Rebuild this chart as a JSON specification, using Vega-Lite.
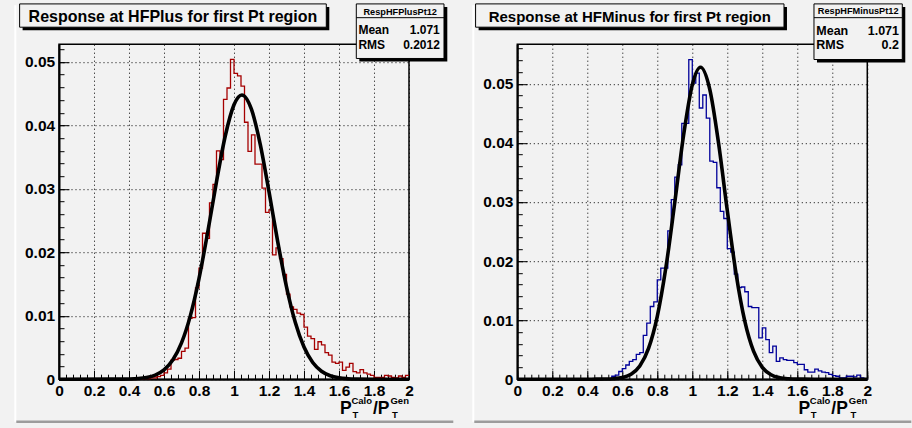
{
  "$schema": "https://vega.github.io/schema/vega-lite/v6.json",
  "background": "#f2f2f2",
  "padding": {"left": 13, "top": 2.2, "right": 0.7, "bottom": 6.7},
  "bounds": "flush",
  "spacing": 108.3,
  "config": {
    "font": "Liberation Sans",
    "view": {"stroke": "#000000", "strokeWidth": 1.5},
    "axis": {"labelFont": "Liberation Sans", "titleFont": "Liberation Sans", "titleColor": "#000000", "labelColor": "#000000", "tickColor": "#000000", "domainColor": "#000000"}
  },
  "datasets": {
    "hplus": [
      {"x": 0.40, "y": 0}, {"x": 0.42, "y": 0}, {"x": 0.44, "y": 0}, {"x": 0.46, "y": 0},
      {"x": 0.48, "y": 0.0001}, {"x": 0.50, "y": 0.0001}, {"x": 0.52, "y": 0.0002}, {"x": 0.54, "y": 0.0002},
      {"x": 0.56, "y": 0.0004}, {"x": 0.58, "y": 0.0006}, {"x": 0.60, "y": 0.0010}, {"x": 0.62, "y": 0.0016},
      {"x": 0.64, "y": 0.0030}, {"x": 0.66, "y": 0.0031}, {"x": 0.68, "y": 0.0033}, {"x": 0.70, "y": 0.0044},
      {"x": 0.72, "y": 0.0049}, {"x": 0.74, "y": 0.0096}, {"x": 0.76, "y": 0.0097}, {"x": 0.78, "y": 0.0144},
      {"x": 0.80, "y": 0.0175}, {"x": 0.82, "y": 0.0230}, {"x": 0.84, "y": 0.0222}, {"x": 0.86, "y": 0.0278},
      {"x": 0.88, "y": 0.0307}, {"x": 0.90, "y": 0.0360}, {"x": 0.92, "y": 0.0346}, {"x": 0.94, "y": 0.0441},
      {"x": 0.96, "y": 0.0459}, {"x": 0.98, "y": 0.0504}, {"x": 1.00, "y": 0.0482}, {"x": 1.02, "y": 0.0478},
      {"x": 1.04, "y": 0.0462}, {"x": 1.06, "y": 0.0405}, {"x": 1.08, "y": 0.0359}, {"x": 1.10, "y": 0.0385},
      {"x": 1.12, "y": 0.0339}, {"x": 1.14, "y": 0.0339}, {"x": 1.16, "y": 0.0301}, {"x": 1.18, "y": 0.0263},
      {"x": 1.20, "y": 0.0267}, {"x": 1.22, "y": 0.0196}, {"x": 1.24, "y": 0.0207}, {"x": 1.26, "y": 0.0190},
      {"x": 1.28, "y": 0.0165}, {"x": 1.30, "y": 0.0134}, {"x": 1.32, "y": 0.0114}, {"x": 1.34, "y": 0.0110},
      {"x": 1.36, "y": 0.0104}, {"x": 1.38, "y": 0.0102}, {"x": 1.40, "y": 0.0082}, {"x": 1.42, "y": 0.0068},
      {"x": 1.44, "y": 0.0064}, {"x": 1.46, "y": 0.0047}, {"x": 1.48, "y": 0.0059}, {"x": 1.50, "y": 0.0054},
      {"x": 1.52, "y": 0.0042}, {"x": 1.54, "y": 0.0038}, {"x": 1.56, "y": 0.0027}, {"x": 1.58, "y": 0.0025},
      {"x": 1.60, "y": 0.0027}, {"x": 1.62, "y": 0.0014}, {"x": 1.64, "y": 0.0019}, {"x": 1.66, "y": 0.0025},
      {"x": 1.68, "y": 0.0012}, {"x": 1.70, "y": 0.0010}, {"x": 1.72, "y": 0.0015}, {"x": 1.74, "y": 0.0010},
      {"x": 1.76, "y": 0.0008}, {"x": 1.78, "y": 0.0006}, {"x": 1.80, "y": 0.0003}, {"x": 1.82, "y": 0.0003},
      {"x": 1.84, "y": 0.0003}, {"x": 1.86, "y": 0.0006}, {"x": 1.88, "y": 0.0005}, {"x": 1.90, "y": 0.0003},
      {"x": 1.92, "y": 0.0002}, {"x": 1.94, "y": 0.0005}, {"x": 1.96, "y": 0.0003}, {"x": 1.98, "y": 0.0006},
      {"x": 2.00, "y": 0.0006}
    ],
    "hminus": [
      {"x": 0.40, "y": 0}, {"x": 0.42, "y": 0}, {"x": 0.44, "y": 0}, {"x": 0.46, "y": 0},
      {"x": 0.48, "y": 0}, {"x": 0.50, "y": 0}, {"x": 0.52, "y": 0.0001}, {"x": 0.54, "y": 0.0005},
      {"x": 0.56, "y": 0.0007}, {"x": 0.58, "y": 0.0013}, {"x": 0.60, "y": 0.0018}, {"x": 0.62, "y": 0.0024},
      {"x": 0.64, "y": 0.0030}, {"x": 0.66, "y": 0.0033}, {"x": 0.68, "y": 0.0042}, {"x": 0.70, "y": 0.0045},
      {"x": 0.72, "y": 0.0074}, {"x": 0.74, "y": 0.0095}, {"x": 0.76, "y": 0.0123}, {"x": 0.78, "y": 0.0131},
      {"x": 0.80, "y": 0.0168}, {"x": 0.82, "y": 0.0188}, {"x": 0.84, "y": 0.0188}, {"x": 0.86, "y": 0.0251},
      {"x": 0.88, "y": 0.0304}, {"x": 0.90, "y": 0.0342}, {"x": 0.92, "y": 0.0363}, {"x": 0.94, "y": 0.0433},
      {"x": 0.96, "y": 0.0433}, {"x": 0.98, "y": 0.0541}, {"x": 1.00, "y": 0.0501}, {"x": 1.02, "y": 0.0518},
      {"x": 1.04, "y": 0.0459}, {"x": 1.06, "y": 0.0481}, {"x": 1.08, "y": 0.0442}, {"x": 1.10, "y": 0.0369},
      {"x": 1.12, "y": 0.0367}, {"x": 1.14, "y": 0.0324}, {"x": 1.16, "y": 0.0284}, {"x": 1.18, "y": 0.0272},
      {"x": 1.20, "y": 0.0221}, {"x": 1.22, "y": 0.0215}, {"x": 1.24, "y": 0.0178}, {"x": 1.26, "y": 0.0155},
      {"x": 1.28, "y": 0.0156}, {"x": 1.30, "y": 0.0148}, {"x": 1.32, "y": 0.0123}, {"x": 1.34, "y": 0.0121},
      {"x": 1.36, "y": 0.0121}, {"x": 1.38, "y": 0.0070}, {"x": 1.40, "y": 0.0087}, {"x": 1.42, "y": 0.0067},
      {"x": 1.44, "y": 0.0045}, {"x": 1.46, "y": 0.0056}, {"x": 1.48, "y": 0.0030}, {"x": 1.50, "y": 0.0036},
      {"x": 1.52, "y": 0.0033}, {"x": 1.54, "y": 0.0032}, {"x": 1.56, "y": 0.0032}, {"x": 1.58, "y": 0.0028},
      {"x": 1.60, "y": 0.0025}, {"x": 1.62, "y": 0.0025}, {"x": 1.64, "y": 0.0016}, {"x": 1.66, "y": 0.0012},
      {"x": 1.68, "y": 0.0012}, {"x": 1.70, "y": 0.0017}, {"x": 1.72, "y": 0.0014}, {"x": 1.74, "y": 0.0012},
      {"x": 1.76, "y": 0.0011}, {"x": 1.78, "y": 0.0008}, {"x": 1.80, "y": 0.0006}, {"x": 1.82, "y": 0.0005},
      {"x": 1.84, "y": 0.0002}, {"x": 1.86, "y": 0.0002}, {"x": 1.88, "y": 0.0005}, {"x": 1.90, "y": 0.0005},
      {"x": 1.92, "y": 0.0004}, {"x": 1.94, "y": 0.0007}, {"x": 1.96, "y": 0.0002}, {"x": 1.98, "y": 0},
      {"x": 2.00, "y": 0}
    ],
    "fplus": [
      {"x": 0.0, "y": 0}, {"x": 0.30, "y": 0.000003}, {"x": 0.35, "y": 0.000011}, {"x": 0.40, "y": 0.000033},
      {"x": 0.45, "y": 0.000098}, {"x": 0.50, "y": 0.000263}, {"x": 0.55, "y": 0.000646}, {"x": 0.60, "y": 0.001457},
      {"x": 0.65, "y": 0.00301}, {"x": 0.70, "y": 0.00572}, {"x": 0.75, "y": 0.00994}, {"x": 0.80, "y": 0.01586},
      {"x": 0.85, "y": 0.0232}, {"x": 0.90, "y": 0.03113}, {"x": 0.95, "y": 0.03833}, {"x": 1.00, "y": 0.04326},
      {"x": 1.045, "y": 0.0448}, {"x": 1.10, "y": 0.04252}, {"x": 1.15, "y": 0.03702}, {"x": 1.20, "y": 0.02956},
      {"x": 1.25, "y": 0.02165}, {"x": 1.30, "y": 0.01455}, {"x": 1.35, "y": 0.00896}, {"x": 1.40, "y": 0.00506},
      {"x": 1.45, "y": 0.00262}, {"x": 1.50, "y": 0.00125}, {"x": 1.55, "y": 0.000543}, {"x": 1.60, "y": 0.000217},
      {"x": 1.65, "y": 0.00008}, {"x": 1.70, "y": 0.000027}, {"x": 1.80, "y": 0.000002}, {"x": 2.00, "y": 0}
    ],
    "fminus": [
      {"x": 0.0, "y": 0}, {"x": 0.40, "y": 0.000001}, {"x": 0.45, "y": 0.0000045}, {"x": 0.50, "y": 0.0000204},
      {"x": 0.55, "y": 0.0000807}, {"x": 0.60, "y": 0.000278}, {"x": 0.65, "y": 0.000842}, {"x": 0.70, "y": 0.00224},
      {"x": 0.75, "y": 0.00521}, {"x": 0.80, "y": 0.01064}, {"x": 0.85, "y": 0.01906}, {"x": 0.90, "y": 0.02994},
      {"x": 0.95, "y": 0.04124}, {"x": 1.00, "y": 0.04982}, {"x": 1.047, "y": 0.0528}, {"x": 1.10, "y": 0.04905},
      {"x": 1.15, "y": 0.03996}, {"x": 1.20, "y": 0.02856}, {"x": 1.25, "y": 0.0179}, {"x": 1.30, "y": 0.00983},
      {"x": 1.35, "y": 0.00474}, {"x": 1.40, "y": 0.0020}, {"x": 1.45, "y": 0.000742}, {"x": 1.50, "y": 0.000241},
      {"x": 1.55, "y": 0.0000687}, {"x": 1.60, "y": 0.0000172}, {"x": 1.70, "y": 0.000001}, {"x": 2.00, "y": 0}
    ],
    "splus": [{"name": "RespHFPlusPt12", "mean": "1.071", "rms": "0.2012", "title": "Response at HFPlus for first Pt region"}],
    "sminus": [{"name": "RespHFMinusPt12", "mean": "1.071", "rms": "0.2", "title": "Response at HFMinus for first Pt region"}]
  },
  "hconcat": [
    {
      "width": 350,
      "height": 335,
      "data": {"name": "splus"},
      "resolve": {"axis": {"x": "independent", "y": "independent"}},
      "layer": [
        {
          "mark": {"type": "rule", "color": "#ffffff", "strokeWidth": 2},
          "encoding": {
            "x": {"datum": -0.2497, "type": "quantitative", "scale": {"domain": [0, 2], "nice": false}, "axis": null},
            "y": {"datum": 0.05895, "type": "quantitative", "scale": {"domain": [0, 0.0528], "nice": false}, "axis": null},
            "y2": {"datum": -0.0067}
          }
        },
        {
          "mark": {"type": "rule", "color": "#9c9c9c", "strokeWidth": 2.5},
          "encoding": {
            "x": {"datum": -0.2440, "type": "quantitative", "scale": {"domain": [0, 2], "nice": false}, "axis": null},
            "x2": {"datum": 2.2531},
            "y": {"datum": -0.0067, "type": "quantitative", "scale": {"domain": [0, 0.0528], "nice": false}, "axis": null}
          }
        },
        {
          "mark": {"type": "rect", "fill": "#000000"},
          "encoding": {
            "x": {"datum": -0.208, "type": "quantitative", "scale": {"domain": [0, 2], "nice": false}, "axis": null},
            "x2": {"datum": 1.5446},
            "y": {"datum": 0.05868, "type": "quantitative", "scale": {"domain": [0, 0.0528], "nice": false}, "axis": null},
            "y2": {"datum": 0.05501}
          }
        },
        {
          "mark": {"type": "rect", "fill": "#f2f2f2", "stroke": "#000000", "strokeWidth": 1},
          "encoding": {
            "x": {"datum": -0.2251, "type": "quantitative", "scale": {"domain": [0, 2], "nice": false},
                  "axis": {"orient": "bottom", "labels": false, "ticks": false, "domain": false, "grid": false, "title": "/P", "titleX": 313.5, "titleY": 34.7, "titleAlign": "left", "titleBaseline": "alphabetic", "titleFontSize": 17.5, "titleFontWeight": "bold"}},
            "x2": {"datum": 1.5274},
            "y": {"datum": 0.05915, "type": "quantitative", "scale": {"domain": [0, 0.0528], "nice": false}, "axis": null},
            "y2": {"datum": 0.05548}
          }
        },
        {
          "mark": {"type": "text", "align": "center", "baseline": "alphabetic", "fontSize": 16, "fontWeight": "bold", "font": "Liberation Sans", "color": "#000000"},
          "encoding": {
            "x": {"datum": 0.6511, "type": "quantitative", "scale": {"domain": [0, 2], "nice": false}, "axis": null},
            "y": {"datum": 0.05631, "type": "quantitative", "scale": {"domain": [0, 0.0528], "nice": false}, "axis": null},
            "text": {"field": "title"}
          }
        },
        {
          "mark": {"type": "rect", "fill": "#000000"},
          "encoding": {
            "x": {"datum": 1.716, "type": "quantitative", "scale": {"domain": [0, 2], "nice": false}, "axis": null},
            "x2": {"datum": 2.2189},
            "y": {"datum": 0.05868, "type": "quantitative", "scale": {"domain": [0, 0.0528], "nice": false}, "axis": null},
            "y2": {"datum": 0.05007}
          }
        },
        {
          "mark": {"type": "rect", "fill": "#f2f2f2", "stroke": "#000000", "strokeWidth": 1},
          "encoding": {
            "x": {"datum": 1.6989, "type": "quantitative", "scale": {"domain": [0, 2], "nice": false},
                  "axis": {"orient": "bottom", "labels": false, "ticks": false, "domain": false, "grid": false, "title": "Gen", "titleX": 331, "titleY": 24, "titleAlign": "left", "titleBaseline": "alphabetic", "titleFontSize": 9.5, "titleFontWeight": "bold"}},
            "x2": {"datum": 2.2},
            "y": {"datum": 0.05915, "type": "quantitative", "scale": {"domain": [0, 0.0528], "nice": false}, "axis": null},
            "y2": {"datum": 0.05055}
          }
        },
        {
          "mark": {"type": "rule", "color": "#000000", "strokeWidth": 1},
          "encoding": {
            "x": {"datum": 1.6989, "type": "quantitative", "scale": {"domain": [0, 2], "nice": false}, "axis": null},
            "x2": {"datum": 2.2},
            "y": {"datum": 0.05698, "type": "quantitative", "scale": {"domain": [0, 0.0528], "nice": false}, "axis": null}
          }
        },
        {
          "mark": {"type": "text", "align": "center", "baseline": "alphabetic", "fontSize": 9.2, "fontWeight": "bold", "font": "Liberation Sans", "color": "#000000"},
          "encoding": {
            "x": {"datum": 1.9497, "type": "quantitative", "scale": {"domain": [0, 2], "nice": false}, "axis": null},
            "y": {"datum": 0.05748, "type": "quantitative", "scale": {"domain": [0, 0.0528], "nice": false}, "axis": null},
            "text": {"field": "name"}
          }
        },
        {
          "mark": {"type": "text", "align": "left", "baseline": "alphabetic", "fontSize": 12, "fontWeight": "bold", "font": "Liberation Sans", "color": "#000000", "lineHeight": 14.7},
          "encoding": {
            "x": {"datum": 1.7109, "type": "quantitative", "scale": {"domain": [0, 2], "nice": false}, "axis": null},
            "y": {"datum": 0.05433, "type": "quantitative", "scale": {"domain": [0, 0.0528], "nice": false}, "axis": null},
            "text": {"value": ["Mean", "RMS"]}
          }
        },
        {
          "mark": {"type": "text", "align": "right", "baseline": "alphabetic", "fontSize": 12, "fontWeight": "bold", "font": "Liberation Sans", "color": "#000000"},
          "encoding": {
            "x": {"datum": 2.176, "type": "quantitative", "scale": {"domain": [0, 2], "nice": false}, "axis": null},
            "y": {"datum": 0.05433, "type": "quantitative", "scale": {"domain": [0, 0.0528], "nice": false}, "axis": null},
            "text": {"field": "mean"}
          }
        },
        {
          "mark": {"type": "text", "align": "right", "baseline": "alphabetic", "fontSize": 12, "fontWeight": "bold", "font": "Liberation Sans", "color": "#000000"},
          "encoding": {
            "x": {"datum": 2.176, "type": "quantitative", "scale": {"domain": [0, 2], "nice": false}, "axis": null},
            "y": {"datum": 0.05201, "type": "quantitative", "scale": {"domain": [0, 0.0528], "nice": false}, "axis": null},
            "text": {"field": "rms"}
          }
        },
        {
          "data": {"name": "hplus"},
          "mark": {"type": "line", "interpolate": "step-after", "color": "#a50000", "strokeWidth": 1.3},
          "encoding": {
            "x": {"field": "x", "type": "quantitative", "scale": {"domain": [0, 2], "nice": false},
                  "axis": {"orient": "bottom", "values": [0, 0.2, 0.4, 0.6, 0.8, 1, 1.2, 1.4, 1.6, 1.8, 2], "format": "~g", "labelFontSize": 15.5, "labelFontWeight": "bold", "labelPadding": 13, "labelFlush": false, "labelOverlap": false, "tickSize": -9, "tickWidth": 1, "domain": true, "domainWidth": 2, "grid": true, "gridColor": "#000000", "gridDash": [1, 3], "gridWidth": 1, "gridOpacity": 1, "title": "P", "titleX": 280.6, "titleY": 34.7, "titleAlign": "left", "titleBaseline": "alphabetic", "titleFontSize": 17.5, "titleFontWeight": "bold"}},
            "y": {"field": "y", "type": "quantitative", "scale": {"domain": [0, 0.0528], "nice": false},
                  "axis": {"orient": "left", "values": [0, 0.01, 0.02, 0.03, 0.04, 0.05], "format": "~g", "labelFontSize": 15.5, "labelFontWeight": "bold", "labelPadding": 14.4, "labelFlush": false, "labelOverlap": false, "tickSize": -10, "tickWidth": 1, "domain": true, "domainWidth": 2, "grid": true, "gridColor": "#000000", "gridDash": [1, 3], "gridWidth": 1, "gridOpacity": 1, "title": "T", "titleX": 293, "titleY": 373.7, "titleAngle": 0, "titleAlign": "left", "titleBaseline": "alphabetic", "titleFontSize": 9.5, "titleFontWeight": "bold"}}
          }
        },
        {
          "data": {"name": "fplus"},
          "mark": {"type": "line", "interpolate": "monotone", "color": "#000000", "strokeWidth": 3.6},
          "encoding": {
            "x": {"field": "x", "type": "quantitative", "scale": {"domain": [0, 2], "nice": false},
                  "axis": {"orient": "bottom", "values": [0, 0.04, 0.08, 0.12, 0.16, 0.2, 0.24, 0.28, 0.32, 0.36, 0.4, 0.44, 0.48, 0.52, 0.56, 0.6, 0.64, 0.68, 0.72, 0.76, 0.8, 0.84, 0.88, 0.92, 0.96, 1, 1.04, 1.08, 1.12, 1.16, 1.2, 1.24, 1.28, 1.32, 1.36, 1.4, 1.44, 1.48, 1.52, 1.56, 1.6, 1.64, 1.68, 1.72, 1.76, 1.8, 1.84, 1.88, 1.92, 1.96, 2], "labels": false, "domain": false, "grid": false, "tickSize": -5, "tickWidth": 1, "title": "Calo", "titleX": 292, "titleY": 24, "titleAlign": "left", "titleBaseline": "alphabetic", "titleFontSize": 9.5, "titleFontWeight": "bold"}},
            "y": {"field": "y", "type": "quantitative", "scale": {"domain": [0, 0.0528], "nice": false},
                  "axis": {"orient": "left", "values": [0, 0.002, 0.004, 0.006, 0.008, 0.01, 0.012, 0.014, 0.016, 0.018, 0.02, 0.022, 0.024, 0.026, 0.028, 0.03, 0.032, 0.034, 0.036, 0.038, 0.04, 0.042, 0.044, 0.046, 0.048, 0.05, 0.052], "labels": false, "domain": false, "grid": false, "tickSize": -5, "tickWidth": 1, "title": "T", "titleX": 332.6, "titleY": 373.7, "titleAngle": 0, "titleAlign": "left", "titleBaseline": "alphabetic", "titleFontSize": 9.5, "titleFontWeight": "bold"}}
          }
        }
      ]
    },
    {
      "width": 350,
      "height": 335,
      "data": {"name": "sminus"},
      "resolve": {"axis": {"x": "independent", "y": "independent"}},
      "layer": [
        {
          "mark": {"type": "rule", "color": "#ffffff", "strokeWidth": 2},
          "encoding": {
            "x": {"datum": -0.2514, "type": "quantitative", "scale": {"domain": [0, 2], "nice": false}, "axis": null},
            "y": {"datum": 0.0633, "type": "quantitative", "scale": {"domain": [0, 0.0567], "nice": false}, "axis": null},
            "y2": {"datum": -0.0072}
          }
        },
        {
          "mark": {"type": "rule", "color": "#9c9c9c", "strokeWidth": 2.5},
          "encoding": {
            "x": {"datum": -0.2457, "type": "quantitative", "scale": {"domain": [0, 2], "nice": false}, "axis": null},
            "x2": {"datum": 2.2514},
            "y": {"datum": -0.0072, "type": "quantitative", "scale": {"domain": [0, 0.0567], "nice": false}, "axis": null}
          }
        },
        {
          "mark": {"type": "rect", "fill": "#000000"},
          "encoding": {
            "x": {"datum": -0.2211, "type": "quantitative", "scale": {"domain": [0, 2], "nice": false}, "axis": null},
            "x2": {"datum": 1.5411},
            "y": {"datum": 0.06301, "type": "quantitative", "scale": {"domain": [0, 0.0567], "nice": false}, "axis": null},
            "y2": {"datum": 0.05907}
          }
        },
        {
          "mark": {"type": "rect", "fill": "#f2f2f2", "stroke": "#000000", "strokeWidth": 1},
          "encoding": {
            "x": {"datum": -0.2383, "type": "quantitative", "scale": {"domain": [0, 2], "nice": false},
                  "axis": {"orient": "bottom", "labels": false, "ticks": false, "domain": false, "grid": false, "title": "/P", "titleX": 313.5, "titleY": 34.7, "titleAlign": "left", "titleBaseline": "alphabetic", "titleFontSize": 17.5, "titleFontWeight": "bold"}},
            "x2": {"datum": 1.524},
            "y": {"datum": 0.06352, "type": "quantitative", "scale": {"domain": [0, 0.0567], "nice": false}, "axis": null},
            "y2": {"datum": 0.05958}
          }
        },
        {
          "mark": {"type": "text", "align": "center", "baseline": "alphabetic", "fontSize": 15, "fontWeight": "bold", "font": "Liberation Sans", "color": "#000000"},
          "encoding": {
            "x": {"datum": 0.6429, "type": "quantitative", "scale": {"domain": [0, 2], "nice": false}, "axis": null},
            "y": {"datum": 0.06047, "type": "quantitative", "scale": {"domain": [0, 0.0567], "nice": false}, "axis": null},
            "text": {"field": "title"}
          }
        },
        {
          "mark": {"type": "rect", "fill": "#000000"},
          "encoding": {
            "x": {"datum": 1.7126, "type": "quantitative", "scale": {"domain": [0, 2], "nice": false}, "axis": null},
            "x2": {"datum": 2.2171},
            "y": {"datum": 0.06301, "type": "quantitative", "scale": {"domain": [0, 0.0567], "nice": false}, "axis": null},
            "y2": {"datum": 0.0536}
          }
        },
        {
          "mark": {"type": "rect", "fill": "#f2f2f2", "stroke": "#000000", "strokeWidth": 1},
          "encoding": {
            "x": {"datum": 1.6954, "type": "quantitative", "scale": {"domain": [0, 2], "nice": false},
                  "axis": {"orient": "bottom", "labels": false, "ticks": false, "domain": false, "grid": false, "title": "Gen", "titleX": 331, "titleY": 24, "titleAlign": "left", "titleBaseline": "alphabetic", "titleFontSize": 9.5, "titleFontWeight": "bold"}},
            "x2": {"datum": 2.2},
            "y": {"datum": 0.06352, "type": "quantitative", "scale": {"domain": [0, 0.0567], "nice": false}, "axis": null},
            "y2": {"datum": 0.05411}
          }
        },
        {
          "mark": {"type": "rule", "color": "#000000", "strokeWidth": 1},
          "encoding": {
            "x": {"datum": 1.6954, "type": "quantitative", "scale": {"domain": [0, 2], "nice": false}, "axis": null},
            "x2": {"datum": 2.2},
            "y": {"datum": 0.06119, "type": "quantitative", "scale": {"domain": [0, 0.0567], "nice": false}, "axis": null}
          }
        },
        {
          "mark": {"type": "text", "align": "center", "baseline": "alphabetic", "fontSize": 9.2, "fontWeight": "bold", "font": "Liberation Sans", "color": "#000000"},
          "encoding": {
            "x": {"datum": 1.948, "type": "quantitative", "scale": {"domain": [0, 2], "nice": false}, "axis": null},
            "y": {"datum": 0.06173, "type": "quantitative", "scale": {"domain": [0, 0.0567], "nice": false}, "axis": null},
            "text": {"field": "name"}
          }
        },
        {
          "mark": {"type": "text", "align": "left", "baseline": "alphabetic", "fontSize": 12.5, "fontWeight": "bold", "font": "Liberation Sans", "color": "#000000", "lineHeight": 14.7},
          "encoding": {
            "x": {"datum": 1.7086, "type": "quantitative", "scale": {"domain": [0, 2], "nice": false}, "axis": null},
            "y": {"datum": 0.05834, "type": "quantitative", "scale": {"domain": [0, 0.0567], "nice": false}, "axis": null},
            "text": {"value": ["Mean", "RMS"]}
          }
        },
        {
          "mark": {"type": "text", "align": "right", "baseline": "alphabetic", "fontSize": 12.5, "fontWeight": "bold", "font": "Liberation Sans", "color": "#000000"},
          "encoding": {
            "x": {"datum": 2.1811, "type": "quantitative", "scale": {"domain": [0, 2], "nice": false}, "axis": null},
            "y": {"datum": 0.05834, "type": "quantitative", "scale": {"domain": [0, 0.0567], "nice": false}, "axis": null},
            "text": {"field": "mean"}
          }
        },
        {
          "mark": {"type": "text", "align": "right", "baseline": "alphabetic", "fontSize": 12.5, "fontWeight": "bold", "font": "Liberation Sans", "color": "#000000"},
          "encoding": {
            "x": {"datum": 2.1811, "type": "quantitative", "scale": {"domain": [0, 2], "nice": false}, "axis": null},
            "y": {"datum": 0.05585, "type": "quantitative", "scale": {"domain": [0, 0.0567], "nice": false}, "axis": null},
            "text": {"field": "rms"}
          }
        },
        {
          "data": {"name": "hminus"},
          "mark": {"type": "line", "interpolate": "step-after", "color": "#00009a", "strokeWidth": 1.3},
          "encoding": {
            "x": {"field": "x", "type": "quantitative", "scale": {"domain": [0, 2], "nice": false},
                  "axis": {"orient": "bottom", "values": [0, 0.2, 0.4, 0.6, 0.8, 1, 1.2, 1.4, 1.6, 1.8, 2], "format": "~g", "labelFontSize": 15.5, "labelFontWeight": "bold", "labelPadding": 13, "labelFlush": false, "labelOverlap": false, "tickSize": -9, "tickWidth": 1, "domain": true, "domainWidth": 2, "grid": true, "gridColor": "#000000", "gridDash": [1, 3], "gridWidth": 1, "gridOpacity": 1, "title": "P", "titleX": 280.6, "titleY": 34.7, "titleAlign": "left", "titleBaseline": "alphabetic", "titleFontSize": 17.5, "titleFontWeight": "bold"}},
            "y": {"field": "y", "type": "quantitative", "scale": {"domain": [0, 0.0567], "nice": false},
                  "axis": {"orient": "left", "values": [0, 0.01, 0.02, 0.03, 0.04, 0.05], "format": "~g", "labelFontSize": 15.5, "labelFontWeight": "bold", "labelPadding": 14.4, "labelFlush": false, "labelOverlap": false, "tickSize": -10, "tickWidth": 1, "domain": true, "domainWidth": 2, "grid": true, "gridColor": "#000000", "gridDash": [1, 3], "gridWidth": 1, "gridOpacity": 1, "title": "T", "titleX": 293, "titleY": 373.7, "titleAngle": 0, "titleAlign": "left", "titleBaseline": "alphabetic", "titleFontSize": 9.5, "titleFontWeight": "bold"}}
          }
        },
        {
          "data": {"name": "fminus"},
          "mark": {"type": "line", "interpolate": "monotone", "color": "#000000", "strokeWidth": 3.6},
          "encoding": {
            "x": {"field": "x", "type": "quantitative", "scale": {"domain": [0, 2], "nice": false},
                  "axis": {"orient": "bottom", "values": [0, 0.04, 0.08, 0.12, 0.16, 0.2, 0.24, 0.28, 0.32, 0.36, 0.4, 0.44, 0.48, 0.52, 0.56, 0.6, 0.64, 0.68, 0.72, 0.76, 0.8, 0.84, 0.88, 0.92, 0.96, 1, 1.04, 1.08, 1.12, 1.16, 1.2, 1.24, 1.28, 1.32, 1.36, 1.4, 1.44, 1.48, 1.52, 1.56, 1.6, 1.64, 1.68, 1.72, 1.76, 1.8, 1.84, 1.88, 1.92, 1.96, 2], "labels": false, "domain": false, "grid": false, "tickSize": -5, "tickWidth": 1, "title": "Calo", "titleX": 292, "titleY": 24, "titleAlign": "left", "titleBaseline": "alphabetic", "titleFontSize": 9.5, "titleFontWeight": "bold"}},
            "y": {"field": "y", "type": "quantitative", "scale": {"domain": [0, 0.0567], "nice": false},
                  "axis": {"orient": "left", "values": [0, 0.002, 0.004, 0.006, 0.008, 0.01, 0.012, 0.014, 0.016, 0.018, 0.02, 0.022, 0.024, 0.026, 0.028, 0.03, 0.032, 0.034, 0.036, 0.038, 0.04, 0.042, 0.044, 0.046, 0.048, 0.05, 0.052, 0.054, 0.056], "labels": false, "domain": false, "grid": false, "tickSize": -5, "tickWidth": 1, "title": "T", "titleX": 332.6, "titleY": 373.7, "titleAngle": 0, "titleAlign": "left", "titleBaseline": "alphabetic", "titleFontSize": 9.5, "titleFontWeight": "bold"}}
          }
        }
      ]
    }
  ]
}
